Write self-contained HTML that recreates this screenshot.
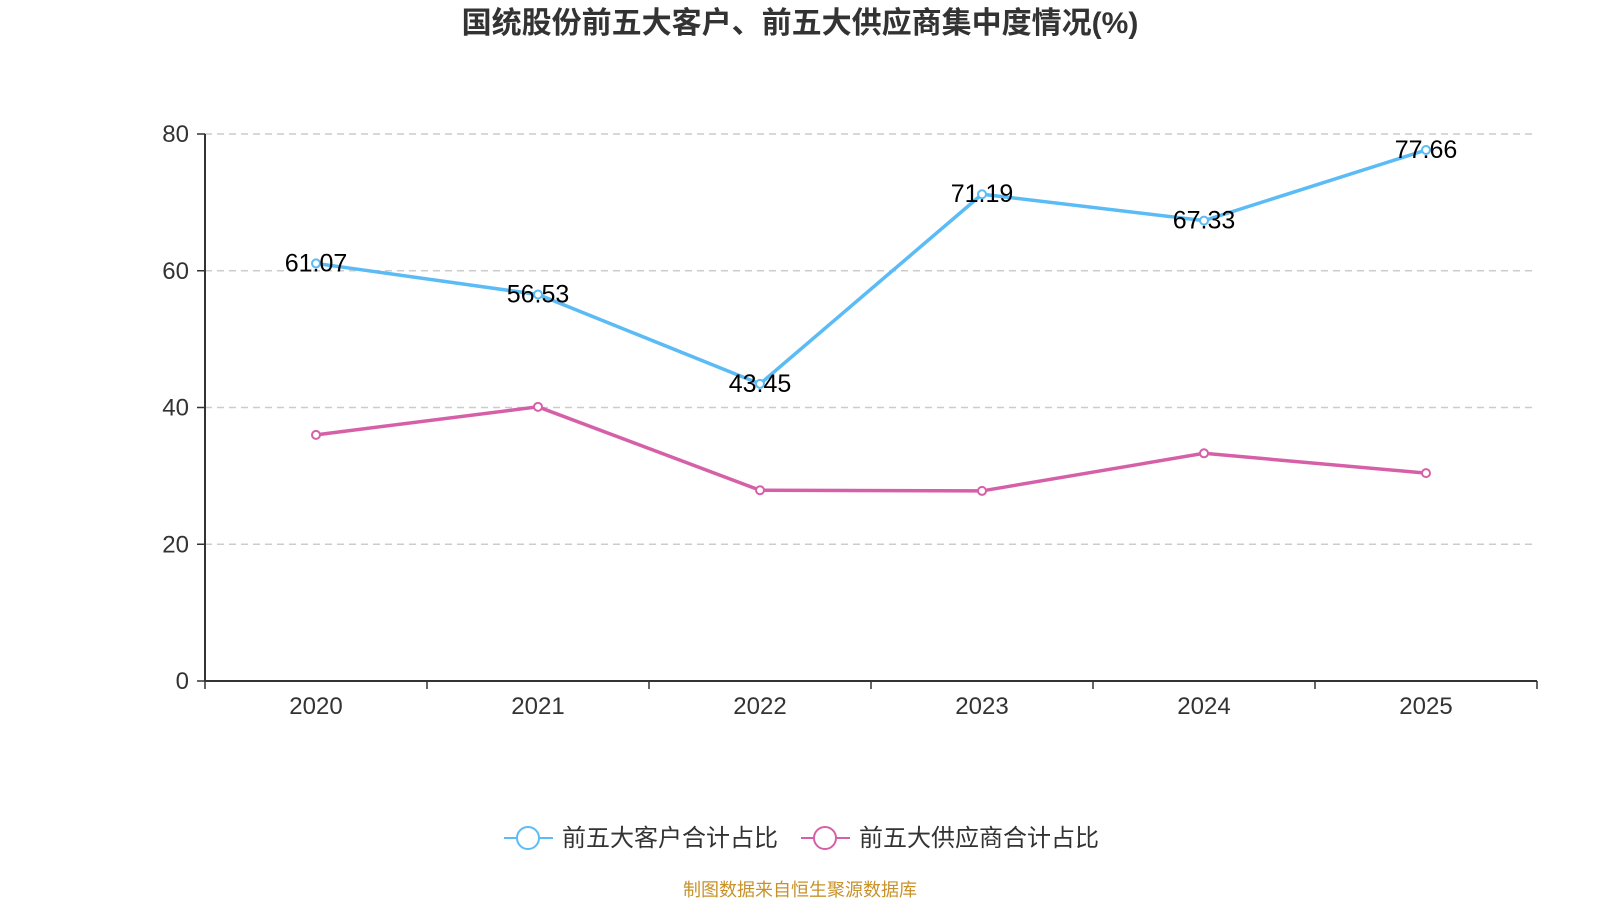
<!DOCTYPE html>
<html><head><meta charset="utf-8"><style>
body{margin:0;background:#fff;}
svg{display:block;font-family:"Liberation Sans","Noto Sans CJK SC",sans-serif;}
</style></head><body>
<svg id="chart" width="1600" height="900">
<text x="800" y="33" text-anchor="middle" font-size="30" font-weight="bold" fill="#333">国统股份前五大客户、前五大供应商集中度情况(%)</text>
<g id="grid"></g><g id="axes"></g><g id="series"></g>
<g>
<line x1="504" y1="838" x2="553" y2="838" stroke="#5bbcf5" stroke-width="2"/>
<circle cx="528" cy="838" r="11" fill="#fff" stroke="#5bbcf5" stroke-width="2"/>
<text x="562" y="846" font-size="24" fill="#333">前五大客户合计占比</text>
<line x1="801" y1="838" x2="850" y2="838" stroke="#d660a8" stroke-width="2"/>
<circle cx="825" cy="838" r="11" fill="#fff" stroke="#d660a8" stroke-width="2"/>
<text x="859" y="846" font-size="24" fill="#333">前五大供应商合计占比</text>
</g>
<text x="800" y="896" text-anchor="middle" font-size="18" fill="#c8922a">制图数据来自恒生聚源数据库</text>
</svg>
<script>
const categories=["2020","2021","2022","2023","2024","2025"];
const customerValues=[61.07,56.53,43.45,71.19,67.33,77.66];
const supplierValues=[36.0,40.1,27.9,27.8,33.3,30.4];
const yTicks=[0,20,40,60,80];
const NS="http://www.w3.org/2000/svg";
const L=205,R=1537,T=134,B=681,yMax=80;
const band=(R-L)/categories.length;
const x=i=>L+band*(i+0.5);
const y=v=>B-(v/yMax)*(B-T);
function mk(tag,attrs,parent,text){const e=document.createElementNS(NS,tag);for(const k in attrs)e.setAttribute(k,attrs[k]);if(text!==undefined)e.textContent=text;parent.appendChild(e);return e;}
const grid=document.getElementById('grid'),axes=document.getElementById('axes'),ser=document.getElementById('series');
yTicks.forEach(t=>{
  if(t>0){const g=mk('line',{x1:L,x2:R,y1:y(t),y2:y(t),stroke:'#ccc','stroke-dasharray':'7,5','stroke-width':1.5},grid);
  
  }
  const tk=mk('line',{x1:L-8,x2:L,y1:y(t),y2:y(t),stroke:'#333','stroke-width':1.5},axes);
  
  
  const lb=mk('text',{x:L-16,y:y(t)+8,'text-anchor':'end','font-size':24,fill:'#333'},axes,String(t));
  
  
});
const ya=mk('line',{x1:L,x2:L,y1:T,y2:B,stroke:'#333','stroke-width':2},axes);


const xa=mk('line',{x1:L,x2:R,y1:B,y2:B,stroke:'#333','stroke-width':2},axes);


for(let i=0;i<=categories.length;i++){const t=mk('line',{x1:L+band*i,x2:L+band*i,y1:B,y2:B+8,stroke:'#333','stroke-width':1.5},axes);

}
categories.forEach((c,i)=>{const t=mk('text',{x:x(i),y:B+33,'text-anchor':'middle','font-size':24,fill:'#333'},axes,c);

});
function drawSeries(vals,color,name,labels){
  const p=mk('polyline',{points:vals.map((v,i)=>x(i)+','+y(v)).join(' '),fill:'none',stroke:color,'stroke-width':3.5},ser);
  
  
  vals.forEach((v,i)=>{
    const c=mk('circle',{cx:x(i),cy:y(v),r:4,fill:'#fff',stroke:color,'stroke-width':2},ser);
    
    
    if(labels){const t=mk('text',{x:x(i),y:y(v)+8,'text-anchor':'middle','font-size':25,fill:'#000'},ser,v.toFixed(2));
    
    }
  });
}
drawSeries(supplierValues,'#d660a8','suppliers',false);
drawSeries(customerValues,'#5bbcf5','customers',true);
</script>
</body></html>
